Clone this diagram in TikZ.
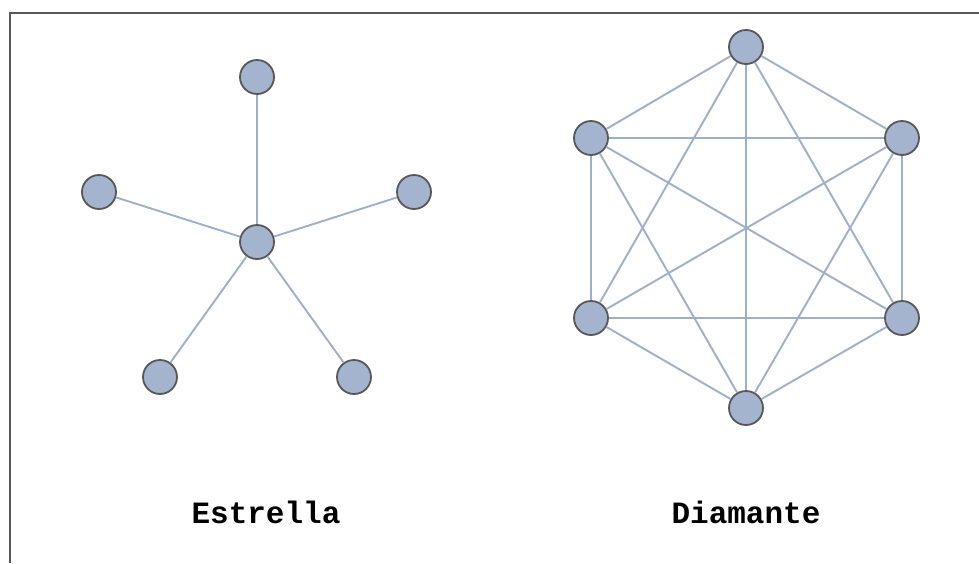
\documentclass[tikz,border=0pt]{standalone}
\usepackage{fontspec}
\setmonofont{Liberation Mono}
\usepackage{tikz}
\usetikzlibrary{positioning}
\definecolor{nodefill}{RGB}{164,180,206}
\definecolor{edgecol}{RGB}{158,175,203}
\definecolor{rimcol}{RGB}{88,88,88}

\begin{document}
\begin{tikzpicture}[x=1pt,y=-1pt,vertex/.style={circle,draw=rimcol,line width=1.8pt,fill=nodefill,minimum size=34pt,inner sep=0pt},link/.style={draw=edgecol,line width=1.9pt},caption/.style={font=\ttfamily\bfseries\fontsize{31}{36}\selectfont,inner sep=0pt}]
\useasboundingbox (0,0) rectangle (979,563);
\draw[line width=2.2pt,draw=rimcol] (10,563) -- (10,13) -- (979,13);
% estrella
\node[vertex] (s0) at (257,242) {};
\node[vertex] (s1) at (257,77) {};
\node[vertex] (s2) at (99,192) {};
\node[vertex] (s3) at (414,192) {};
\node[vertex] (s4) at (160,377) {};
\node[vertex] (s5) at (354,377) {};
\draw[link] (s0) -- (s1); \draw[link] (s0) -- (s2); \draw[link] (s0) -- (s3); \draw[link] (s0) -- (s4); \draw[link] (s0) -- (s5);
% diamante
\node[vertex] (d1) at (746,47) {};
\node[vertex] (d2) at (902,138) {};
\node[vertex] (d3) at (902,318) {};
\node[vertex] (d4) at (746,408) {};
\node[vertex] (d5) at (591,318) {};
\node[vertex] (d6) at (591,138) {};
\draw[link] (d1) -- (d2); \draw[link] (d1) -- (d3); \draw[link] (d1) -- (d4); \draw[link] (d1) -- (d5); \draw[link] (d1) -- (d6);
\draw[link] (d2) -- (d3); \draw[link] (d2) -- (d4); \draw[link] (d2) -- (d5); \draw[link] (d2) -- (d6);
\draw[link] (d3) -- (d4); \draw[link] (d3) -- (d5); \draw[link] (d3) -- (d6);
\draw[link] (d4) -- (d5); \draw[link] (d4) -- (d6);
\draw[link] (d5) -- (d6);
\node[caption] (lblstar) at (266,512) {Estrella};
\node[caption] (lbldiam) at (746,512) {Diamante};
\end{tikzpicture}
\end{document}
